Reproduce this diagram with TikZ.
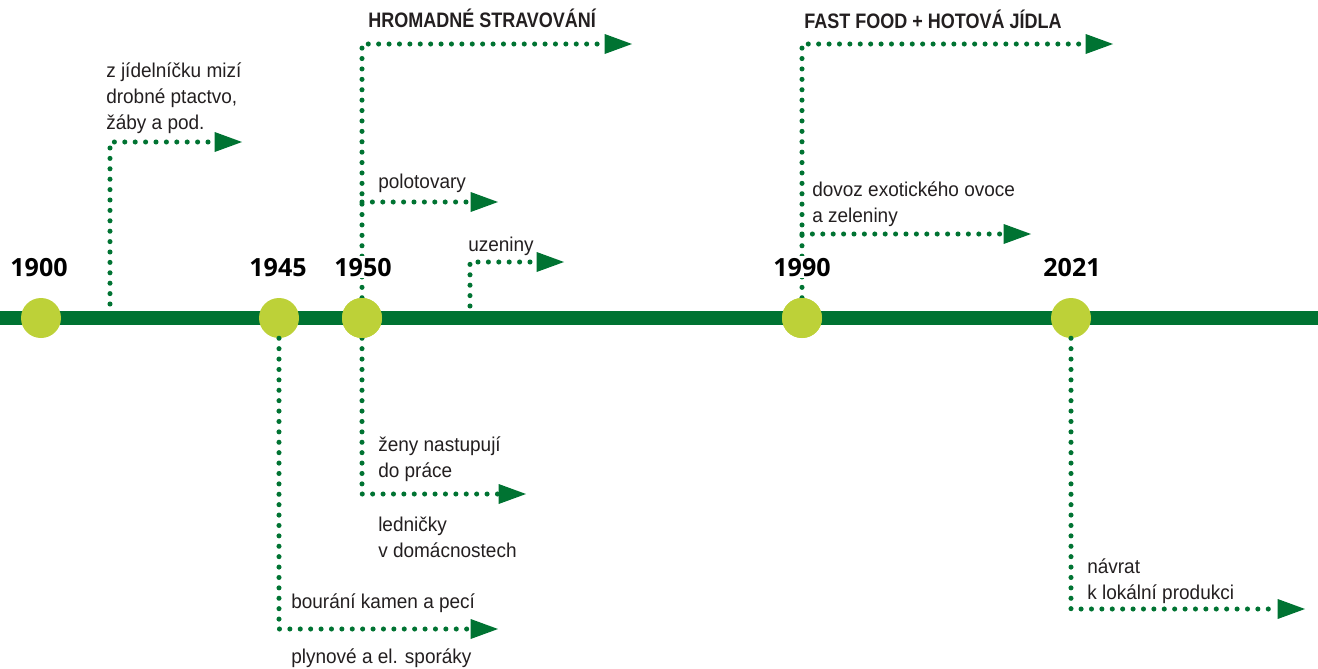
\documentclass[tikz,border=0pt]{standalone}
\usepackage{fontspec}
\setmainfont{Liberation Sans}[FakeStretch=0.95]
\newfontfamily\headfont{Liberation Sans}[FakeStretch=0.86]
\newfontfamily\yearfont{Open Sans}
\usetikzlibrary{arrows.meta}
\definecolor{tlgreen}{HTML}{007332}
\definecolor{lime}{HTML}{BDD138}
\definecolor{txt}{HTML}{231F20}
\begin{document}
\begin{tikzpicture}[x=0.75pt,y=-0.75pt,
  timeline/.style={draw=tlgreen,line width=10.5pt},
  yeardot/.style={circle,fill=lime,minimum size=30pt,inner sep=0pt},
  year/.style={font=\yearfont\bfseries\fontsize{18.8pt}{22pt}\selectfont,text=black,anchor=base,fill=white,inner sep=1pt},
  conn/.style={draw=tlgreen,line width=3.8pt,dash pattern=on 0pt off 7.8pt,line cap=round,
    -{Triangle[length=20.5pt,width=15pt,line width=0pt]}},
  lbl/.style={anchor=base west,align=left,inner sep=0pt,text=txt,
    font=\fontsize{15pt}{19.5pt}\selectfont},
  head/.style={anchor=base west,inner sep=0pt,text=txt,
    font=\headfont\bfseries\fontsize{15.7pt}{19pt}\selectfont}]
\useasboundingbox (0,0) rectangle (1318,668);
% timeline
\coordinate (tlL) at (0,318);
\coordinate (tlR) at (1318,318);
\draw[timeline] (tlL) -- (tlR);
% connector points
\coordinate (a1) at (110,304);
\coordinate (a2) at (110,142);
\coordinate (a3) at (242,142);
\coordinate (b2) at (362,44);
\coordinate (b3) at (632,44);
\coordinate (b4) at (362,202);
\coordinate (b5) at (498,202);
\coordinate (u1) at (470,306);
\coordinate (u2) at (470,262);
\coordinate (u3) at (564,262);
\coordinate (d2) at (362,494);
\coordinate (d3) at (526,494);
\coordinate (p2) at (279,629);
\coordinate (p3) at (498,629);
\coordinate (f2) at (802,44);
\coordinate (f3) at (1113,44);
\coordinate (f4) at (802,234);
\coordinate (f5) at (1031,234);
\coordinate (n2) at (1071,609);
\coordinate (n3) at (1305,609);
% circles
\node[yeardot] (c1900) at (41,318) {};
\node[yeardot] (c1945) at (279,318) {};
\node[yeardot] (c1950) at (362,318) {};
\node[yeardot] (c1990) at (802,318) {};
\node[yeardot] (c2021) at (1071,318) {};
% connectors
\draw[conn] (a1) -- (a2) -- (a3);
\draw[conn] (c1950.north) -- (b2) -- (b3);
\draw[conn] (b4) -- (b5);
\draw[conn] (u1) -- (u2) -- (u3);
\draw[conn] (c1950.south) -- (d2) -- (d3);
\draw[conn] (c1945.south) -- (p2) -- (p3);
\draw[conn] (c1990.north) -- (f2) -- (f3);
\draw[conn] (f4) -- (f5);
\draw[conn] (c2021.south) -- (n2) -- (n3);
% redraw circles on top
\node[yeardot] at (c1950) {};
\node[yeardot] at (c1990) {};
% years
\node[year] (y1900) at (39,276) {1900};
\node[year] (y1945) at (278,276) {1945};
\node[year] (y1950) at (363,276) {1950};
\node[year] (y1990) at (802,276) {1990};
\node[year] (y2021) at (1072,276) {2021};
% labels (base anchor = baseline of last line)
\node[lbl] (t1) at (106,129) {z jídelníčku mizí\\drobné ptactvo,\\žáby a pod.};
\node[head] (h1) at (368,27) {HROMADNÉ STRAVOVÁNÍ};
\node[lbl] (t2) at (378,188) {polotovary};
\node[lbl] (t3) at (468,251) {uzeniny};
\node[lbl] (t4) at (378,477) {ženy nastupují\\do práce};
\node[lbl] (t5) at (378,557) {ledničky\\v domácnostech};
\node[lbl] (t6) at (291,608) {bourání kamen a pecí};
\node[lbl] (t7) at (291,663) {plynové a el. sporáky};
\node[head] (h2) at (804,28) {FAST FOOD + HOTOVÁ JÍDLA};
\node[lbl] (t8) at (812,222) {dovoz exotického ovoce\\a zeleniny};
\node[lbl] (t9) at (1087,599) {návrat\\k lokální produkci};
\end{tikzpicture}
\end{document}
